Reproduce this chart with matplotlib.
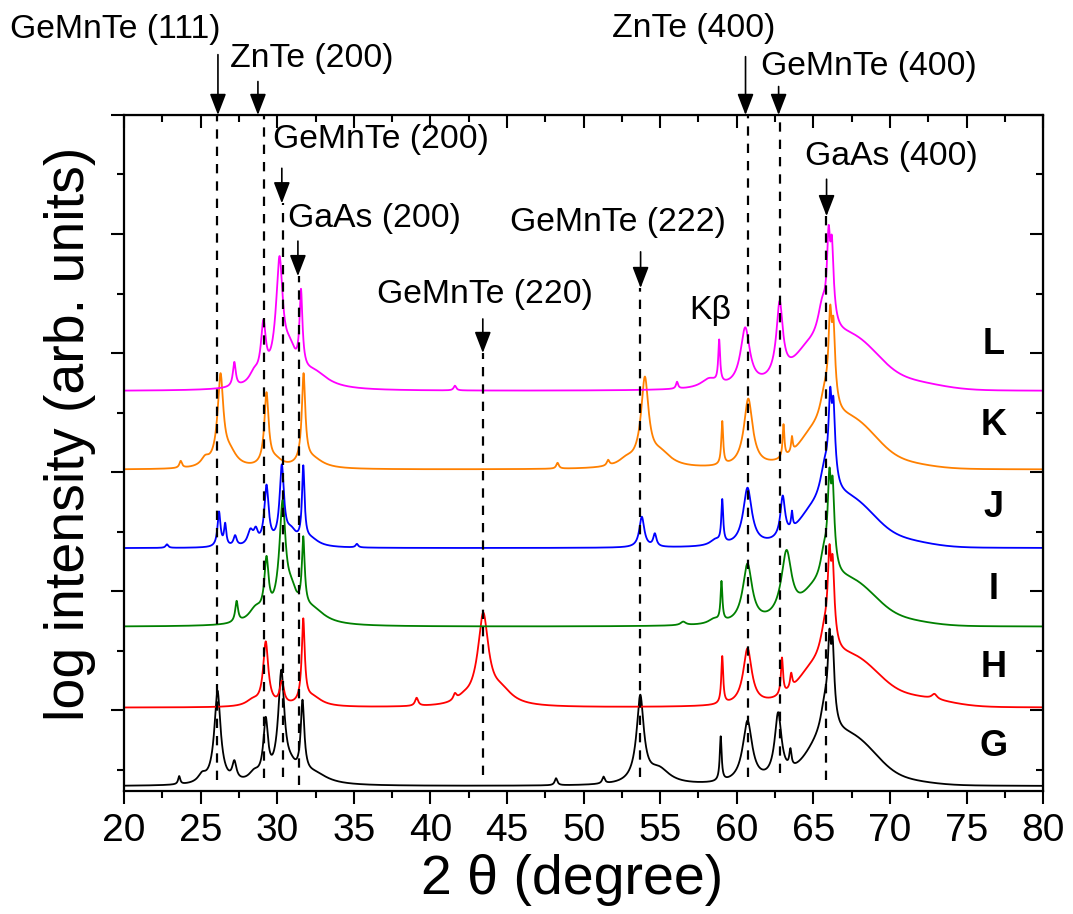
import numpy as np
import matplotlib
matplotlib.use('Agg')
import matplotlib.pyplot as plt
from matplotlib.ticker import MultipleLocator

plt.rcParams['font.family'] = ['Liberation Sans', 'DejaVu Sans']

# ---- data ----
# y axis is log intensity: one major tick = one decade, curves are stacked
samples = ['G', 'H', 'I', 'J', 'K', 'L']
colors = ['black', '#ff0000', '#008000', '#0000ff', '#ff8000', '#ff00ff']
baselines = [0.36, 1.02, 1.70, 2.36, 3.02, 3.68]

# peaks: (2theta, height above baseline in decades, hwhm in degree)
peaks_G = [(23.6, 0.07, 0.08), (25.1, 0.07, 0.3), (26.1, 0.80, 0.16), (27.2, 0.17, 0.15),
           (28.5, 0.08, 0.4), (29.25, 0.55, 0.14), (30.27, 0.97, 0.15), (30.9, 0.10, 0.4),
           (31.65, 0.70, 0.10), (32.4, 0.09, 1.0), (48.2, 0.06, 0.1), (51.3, 0.06, 0.1),
           (53.7, 0.76, 0.19), (54.9, 0.13, 0.8), (58.95, 0.40, 0.06), (60.7, 0.54, 0.28),
           (62.7, 0.60, 0.2), (63.5, 0.20, 0.08), (65.3, 0.19, 1.2), (65.75, 0.50, 0.25),
           (66.05, 1.22, 0.09), (66.25, 1.13, 0.09)]
humps_G = [(67.2, 0.40, 1.5), (70.5, 0.04, 1.8)]

peaks_H = [(28.4, 0.05, 0.5), (29.25, 0.55, 0.15), (30.3, 0.20, 0.15), (31.7, 0.74, 0.08),
           (32.3, 0.08, 0.7), (39.1, 0.07, 0.12), (41.6, 0.06, 0.12), (42.2, 0.04, 0.5),
           (43.45, 0.79, 0.28), (44.6, 0.12, 0.8), (59.05, 0.42, 0.06), (60.7, 0.49, 0.26),
           (62.95, 0.37, 0.07), (63.55, 0.17, 0.08), (64.8, 0.20, 1.2), (65.75, 0.45, 0.3),
           (66.05, 1.28, 0.09), (66.25, 1.16, 0.09), (72.9, 0.05, 0.2)]
humps_H = [(67.3, 0.41, 1.6), (71.5, 0.08, 2.0)]

peaks_I = [(27.35, 0.19, 0.1), (28.6, 0.12, 0.5), (29.3, 0.55, 0.13), (30.35, 1.05, 0.15),
           (30.9, 0.25, 0.4), (31.7, 0.72, 0.08), (32.3, 0.12, 0.9), (56.5, 0.03, 0.2),
           (58.5, 0.04, 0.4), (59.0, 0.36, 0.06), (60.7, 0.52, 0.28), (63.25, 0.62, 0.3),
           (64.9, 0.18, 1.0), (65.7, 0.42, 0.25), (66.05, 1.25, 0.09), (66.25, 1.15, 0.09)]
humps_I = [(67.2, 0.37, 1.5), (70.5, 0.05, 1.8)]

peaks_J = [(22.8, 0.03, 0.1), (26.2, 0.30, 0.1), (26.6, 0.19, 0.08), (27.25, 0.09, 0.12),
           (28.25, 0.13, 0.2), (28.6, 0.12, 0.15), (29.3, 0.52, 0.13), (30.3, 0.69, 0.12),
           (30.9, 0.12, 0.4), (31.7, 0.68, 0.07), (32.2, 0.06, 0.6), (35.2, 0.03, 0.1),
           (53.8, 0.26, 0.17), (54.65, 0.11, 0.12), (58.6, 0.05, 0.4), (59.05, 0.39, 0.06),
           (60.7, 0.50, 0.26), (63.0, 0.40, 0.15), (63.6, 0.19, 0.06), (64.8, 0.18, 1.1),
           (65.75, 0.50, 0.3), (66.1, 1.26, 0.09), (66.3, 1.15, 0.09)]
humps_J = [(67.1, 0.40, 1.5), (70.5, 0.06, 1.8)]

peaks_K = [(23.7, 0.06, 0.1), (25.3, 0.07, 0.3), (26.3, 0.80, 0.15), (26.9, 0.12, 0.5),
           (29.3, 0.64, 0.12), (29.9, 0.06, 0.5), (31.72, 0.80, 0.09), (32.3, 0.08, 0.8),
           (48.3, 0.05, 0.1), (51.6, 0.05, 0.1), (52.8, 0.06, 0.6), (54.0, 0.77, 0.2),
           (55.0, 0.12, 0.8), (59.05, 0.39, 0.06), (60.75, 0.59, 0.25), (63.05, 0.33, 0.06),
           (63.6, 0.17, 0.06), (64.8, 0.18, 1.1), (65.75, 0.45, 0.3), (66.1, 1.30, 0.09),
           (66.3, 1.16, 0.09)]
humps_K = [(67.2, 0.41, 1.5), (70.5, 0.05, 1.8)]

peaks_L = [(27.2, 0.22, 0.1), (28.5, 0.10, 0.35), (29.1, 0.55, 0.15), (30.15, 1.12, 0.16),
           (30.8, 0.30, 0.45), (31.55, 0.82, 0.08), (32.4, 0.13, 1.0), (41.6, 0.04, 0.1),
           (56.1, 0.06, 0.08), (58.2, 0.08, 0.6), (58.85, 0.40, 0.06), (60.55, 0.52, 0.28),
           (62.8, 0.73, 0.18), (64.6, 0.25, 1.2), (65.6, 0.55, 0.3), (66.0, 1.30, 0.09),
           (66.2, 1.18, 0.09)]
humps_L = [(67.2, 0.44, 1.6), (71.0, 0.07, 2.0)]

all_peaks = [peaks_G, peaks_H, peaks_I, peaks_J, peaks_K, peaks_L]
all_humps = [humps_G, humps_H, humps_I, humps_J, humps_K, humps_L]

# reflections marked with dashed lines
refl_names = ['GeMnTe (111)', 'ZnTe (200)', 'GeMnTe (200)', 'GaAs (200)', 'GeMnTe (220)',
              'GeMnTe (222)', 'ZnTe (400)', 'GeMnTe (400)', 'GaAs (400)']
refl_pos = [26.1, 29.15, 30.37, 31.42, 43.44, 53.66, 60.7, 62.83, 65.84]

two_theta = np.linspace(20, 80, 6001)


def log_profile(peaks, humps):
    inten = np.ones_like(two_theta)
    for c, h, w in peaks:
        inten += (10**h - 1) / (1 + ((two_theta - c) / w)**2)
    for c, h, s in humps:
        inten += (10**h - 1) * np.exp(-0.5 * ((two_theta - c) / s)**2)
    return np.log10(inten)


fig = plt.figure(figsize=(10.73, 9.14), dpi=100)
ax = fig.add_axes([0.1156, 0.1346, 0.8566, 0.7396])

for name, col, base, pk, hp in zip(samples, colors, baselines, all_peaks, all_humps):
    ax.plot(two_theta, base + log_profile(pk, hp), color=col, lw=1.3, zorder=2)

# letters on the right
label_y = [0.69, 1.36, 2.01, 2.70, 3.39, 4.07]
for name, ly in zip(samples, label_y):
    ax.text(76.75, ly, name, fontsize=26, fontweight='bold', ha='center', va='center')

# dashed guide lines
line_top = [6.0, 6.0, 5.26, 4.65, 4.0, 4.55, 6.0, 6.0, 5.15]
line_bot = [0.41, 0.43, 0.44, 0.37, 0.455, 0.44, 0.44, 0.47, 0.41]
for xp, yt, yb in zip(refl_pos, line_top, line_bot):
    ax.plot([xp, xp], [yb, yt], color='black', lw=1.6, dashes=(4.2, 3.6), zorder=3)

# labels with arrows: text x, text y, arrow x, arrow start, arrow tip
annots = [(19.41, 6.717, 26.13, 6.507, 6.0),
          (32.26, 6.474, 28.74, 6.281, 6.0),
          (36.76, 5.795, 30.3, 5.552, 5.258),
          (36.37, 5.132, 31.35, 4.94, 4.646),
          (43.55, 4.495, 43.42, 4.286, 4.0),
          (52.22, 5.10, 53.72, 4.85, 4.546),
          (57.18, 6.725, 60.57, 6.49, 6.0),
          (68.6, 6.407, 62.73, 6.239, 6.0),
          (70.1, 5.65, 65.86, 5.46, 5.15)]
for name, (tx, ty, axx, y0, y1) in zip(refl_names, annots):
    ax.text(tx, ty, name, fontsize=24.3, ha='center', va='center', clip_on=False)
    ax.annotate('', xy=(axx, y1), xytext=(axx, y0), annotation_clip=False,
                arrowprops=dict(arrowstyle='-|>,head_length=1.3,head_width=0.5',
                                color='black', lw=1.2, shrinkA=0, shrinkB=0,
                                mutation_scale=10))
ax.text(58.29, 4.36, 'Kβ', fontsize=24.3, ha='center', va='center')

ax.set_xlim(20, 80)
ax.set_ylim(0.32, 6.0)
ax.xaxis.set_major_locator(MultipleLocator(5))
ax.xaxis.set_minor_locator(MultipleLocator(2.5))
ax.yaxis.set_major_locator(MultipleLocator(1))
ax.yaxis.set_minor_locator(MultipleLocator(0.5))
ax.set_yticklabels([])
ax.tick_params(which='major', direction='out', length=9.5, width=1.5, labelsize=28, pad=6)
ax.tick_params(which='minor', direction='out', length=4.8, width=1.5)
for sp in ax.spines.values():
    sp.set_linewidth(1.6)

top = ax.secondary_xaxis('top')
top.xaxis.set_major_locator(MultipleLocator(5))
top.xaxis.set_minor_locator(MultipleLocator(2.5))
top.tick_params(which='major', direction='in', length=9.5, width=1.5, labeltop=False)
top.tick_params(which='minor', direction='in', length=4.8, width=1.5)
right = ax.secondary_yaxis('right')
right.yaxis.set_major_locator(MultipleLocator(1))
right.yaxis.set_minor_locator(MultipleLocator(0.5))
right.tick_params(which='major', direction='in', length=9.5, width=1.5, labelright=False)
right.tick_params(which='minor', direction='in', length=4.8, width=1.5)

ax.set_xlabel('2 θ (degree)', fontsize=40)
ax.xaxis.set_label_coords(0.4875, -0.093)
ax.set_ylabel('log intensity (arb. units)', fontsize=40)
ax.yaxis.set_label_coords(-0.03, 0.528)

fig.savefig('out.png', dpi=100)
